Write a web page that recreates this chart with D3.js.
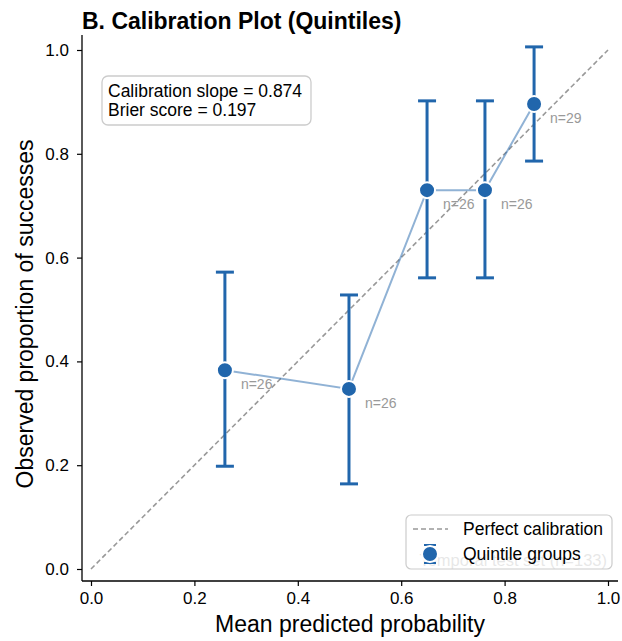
<!DOCTYPE html>
<html>
<head>
<meta charset="utf-8">
<script src="https://cdn.jsdelivr.net/npm/d3@7"></script>
<style>
  body { margin: 0; background: #fff; }
  text { font-family: "Liberation Sans", Arial, sans-serif; }
</style>
</head>
<body>
<div id="chart"></div>
<script>
// quintile groups
const meanPred = [0.259, 0.499, 0.650, 0.762, 0.857]
const observed = [0.383, 0.347, 0.730, 0.730, 0.896]
const ciLow = [0.198, 0.164, 0.561, 0.561, 0.786]
const ciHigh = [0.572, 0.528, 0.902, 0.902, 1.006]
const groupN = [26, 26, 26, 26, 29]
const ticks = [0, 0.2, 0.4, 0.6, 0.8, 1.0]

var width = 622,
    height = 641

const blue = "#2166ac"

var svg = d3.select("#chart").append("svg")
    .attr("width", width)
    .attr("height", height)

var x = d3.scaleLinear().domain([0, 1]).range([91, 608])
var y = d3.scaleLinear().domain([0, 1]).range([569, 50])

const axLeft = 82, axBottom = 581, axTop = 35, axRight = 618

// title
svg.append("text")
    .attr("x", axLeft).attr("y", 29)
    .attr("font-size", 23).attr("font-weight", "bold")
    .text("B. Calibration Plot (Quintiles)")

// subtitle sitting behind the legend
svg.append("text")
    .attr("x", 607).attr("y", 566)
    .attr("text-anchor", "end")
    .attr("font-size", 16.5)
    .attr("fill", "#888")
    .text("Temporal test set (n=133)")

// perfect calibration
svg.append("line")
    .attr("x1", x(0)).attr("y1", y(0))
    .attr("x2", x(1)).attr("y2", y(1))
    .attr("stroke", "#999").attr("stroke-width", 1.6)
    .attr("stroke-dasharray", "5,3")

const pts = meanPred.map((d, i) => ({x: d, y: observed[i], lo: ciLow[i], hi: ciHigh[i], n: groupN[i]}))

// connecting line
svg.append("path")
    .datum(pts)
    .attr("fill", "none")
    .attr("stroke", blue).attr("stroke-opacity", 0.5)
    .attr("stroke-width", 2)
    .attr("d", d3.line().x(d => x(d.x)).y(d => y(d.y)))

// error bars
const eb = svg.append("g").selectAll("g").data(pts).enter().append("g")
eb.append("line")
    .attr("x1", d => x(d.x)).attr("x2", d => x(d.x))
    .attr("y1", d => y(d.lo)).attr("y2", d => y(d.hi))
    .attr("stroke", blue).attr("stroke-width", 3)
eb.selectAll(".cap").data(d => [[d.x, d.lo], [d.x, d.hi]]).enter().append("line")
    .attr("x1", d => x(d[0]) - 9).attr("x2", d => x(d[0]) + 9)
    .attr("y1", d => y(d[1])).attr("y2", d => y(d[1]))
    .attr("stroke", blue).attr("stroke-width", 3)

// markers
svg.append("g").selectAll("circle").data(pts).enter().append("circle")
    .attr("cx", d => x(d.x)).attr("cy", d => y(d.y))
    .attr("r", 8)
    .attr("fill", blue)
    .attr("stroke", "white").attr("stroke-width", 2)

// n labels
svg.append("g").selectAll("text").data(pts).enter().append("text")
    .attr("x", d => x(d.x) + 16).attr("y", d => y(d.y) + 19)
    .attr("font-size", 14).attr("fill", "#999")
    .text(d => "n=" + d.n)

// axes
var xAxis = svg.append("g")
    .attr("transform", "translate(0," + axBottom + ")")
    .call(d3.axisBottom(x).tickValues(ticks).tickFormat(d3.format(".1f")).tickSize(5).tickPadding(6).tickSizeOuter(0))
var yAxis = svg.append("g")
    .attr("transform", "translate(" + axLeft + ",0)")
    .call(d3.axisLeft(y).tickValues(ticks).tickFormat(d3.format(".1f")).tickSize(5).tickPadding(8).tickSizeOuter(0))
svg.selectAll(".domain").remove()
svg.selectAll(".tick line").attr("stroke", "#000").attr("stroke-width", 1.2)
svg.selectAll(".tick text").attr("font-size", 17).attr("font-family", "Liberation Sans, Arial, sans-serif").attr("fill", "#000")

svg.append("line").attr("x1", axLeft).attr("x2", axLeft).attr("y1", axTop).attr("y2", axBottom)
    .attr("stroke", "#000").attr("stroke-width", 1.3)
svg.append("line").attr("x1", axLeft).attr("x2", axRight).attr("y1", axBottom).attr("y2", axBottom)
    .attr("stroke", "#000").attr("stroke-width", 1.3)

svg.append("text")
    .attr("x", (axLeft + axRight) / 2).attr("y", 632)
    .attr("text-anchor", "middle").attr("font-size", 23)
    .text("Mean predicted probability")
svg.append("text")
    .attr("transform", "translate(33," + 314 + ") rotate(-90)")
    .attr("text-anchor", "middle").attr("font-size", 23)
    .text("Observed proportion of successes")

// stats box
svg.append("rect")
    .attr("x", 102).attr("y", 76).attr("width", 209).attr("height", 49)
    .attr("rx", 6)
    .attr("fill", "white").attr("stroke", "#ccc").attr("stroke-width", 1.3)
svg.append("text").attr("x", 108).attr("y", 97).attr("font-size", 17.5)
    .text("Calibration slope = 0.874")
svg.append("text").attr("x", 108).attr("y", 116).attr("font-size", 17.5)
    .text("Brier score = 0.197")

// legend
const lg = svg.append("g")
lg.append("rect")
    .attr("x", 406).attr("y", 515).attr("width", 206).attr("height", 54)
    .attr("rx", 5)
    .attr("fill", "white").attr("fill-opacity", 0.8)
    .attr("stroke", "#ccc").attr("stroke-width", 1.2)
lg.append("line")
    .attr("x1", 413).attr("x2", 448).attr("y1", 529).attr("y2", 529)
    .attr("stroke", "#999").attr("stroke-width", 1.6).attr("stroke-dasharray", "5,3")
lg.append("text").attr("x", 463).attr("y", 535).attr("font-size", 17.5).text("Perfect calibration")
lg.append("line").attr("x1", 430).attr("x2", 430).attr("y1", 545).attr("y2", 563)
    .attr("stroke", blue).attr("stroke-width", 2)
lg.selectAll(".lcap").data([545, 563]).enter().append("line")
    .attr("x1", 424).attr("x2", 436).attr("y1", d => d).attr("y2", d => d)
    .attr("stroke", blue).attr("stroke-width", 2)
lg.append("circle").attr("cx", 430).attr("cy", 554).attr("r", 8)
    .attr("fill", blue).attr("stroke", "white").attr("stroke-width", 2)
lg.append("text").attr("x", 463).attr("y", 560).attr("font-size", 17.5).text("Quintile groups")
</script>
</body>
</html>
